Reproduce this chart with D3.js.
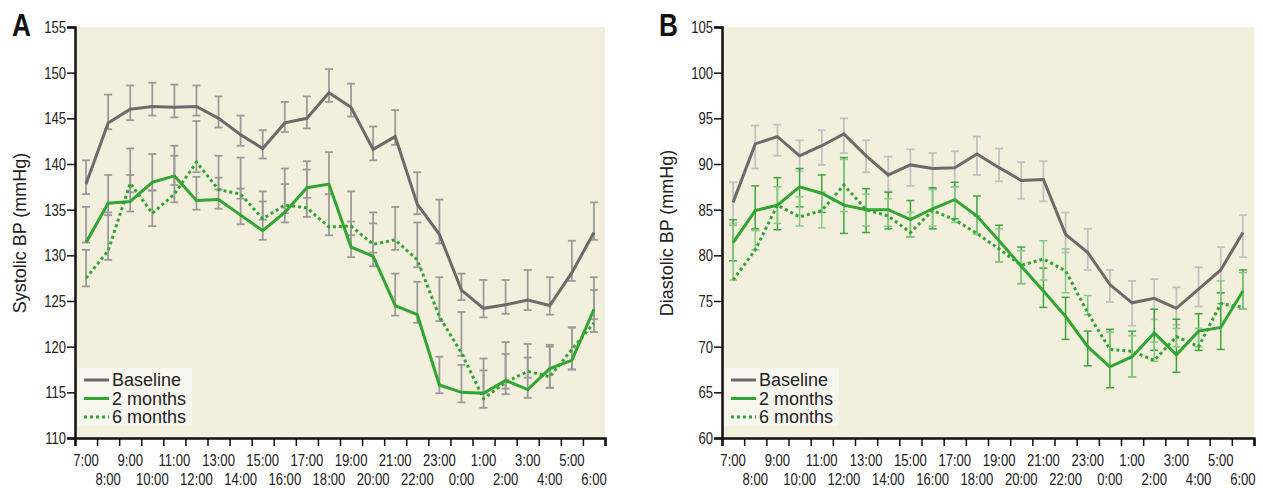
<!DOCTYPE html>
<html>
<head>
<meta charset="utf-8">
<script src="https://cdn.jsdelivr.net/npm/d3@7"></script>
<style>
  body { margin: 0; background: #fff; }
  .tick text { font-family: "Liberation Sans", Arial, sans-serif; font-size: 17px; fill: #222; }
  .ttl { font-family: "Liberation Sans", Arial, sans-serif; font-size: 18px; fill: #222; }
  .leg { font-family: "Liberation Sans", Arial, sans-serif; font-size: 18px; fill: #222; }
  .panel { font-family: "Liberation Sans", Arial, sans-serif; font-weight: bold; font-size: 32px; fill: #111; }
</style>
</head>
<body>
<svg id="fig" width="1263" height="488"></svg>
<script>
const hours = ["7:00","8:00","9:00","10:00","11:00","12:00","13:00","14:00","15:00","16:00","17:00","18:00",
  "19:00","20:00","21:00","22:00","23:00","0:00","1:00","2:00","3:00","4:00","5:00","6:00"];

// Systolic (panel A)
const sysBase   = [137.8,144.5,146.0,146.3,146.2,146.3,145.0,143.2,141.7,144.5,145.0,147.8,146.2,141.6,143.0,135.6,132.3,126.2,124.2,124.6,125.1,124.5,128.1,132.5];
const sysBaseHi = [140.4,147.6,148.6,148.9,148.7,148.6,147.4,145.3,143.7,146.8,147.4,150.4,148.8,144.1,145.9,139.1,136.1,128.0,127.3,127.3,128.4,127.6,131.6,135.8];
const sysBaseLo = [136.7,143.8,144.8,145.3,145.1,145.3,144.0,142.0,140.6,143.5,143.9,146.8,145.2,140.4,142.1,134.5,131.3,125.1,123.2,123.6,124.0,123.5,127.2,131.7];
const sys2m     = [131.4,135.7,135.9,138.0,138.7,136.0,136.1,134.4,132.7,134.7,137.4,137.8,130.9,129.9,124.5,123.5,115.8,115.0,114.9,116.3,115.3,117.6,118.5,124.1];
const sys2mHi   = [135.3,138.8,138.8,141.1,142.0,138.6,138.5,137.3,135.9,137.8,140.3,141.3,133.7,133.5,128.0,127.1,118.9,118.0,118.7,120.5,118.8,120.2,122.1,127.6];
const sys2mLo   = [131.4,134.4,134.8,137.1,137.7,135.0,135.1,133.4,131.7,133.6,136.3,136.7,129.8,128.8,123.4,122.6,114.9,113.9,114.9,115.4,114.4,115.5,117.5,123.0];
const sys6m     = [127.5,130.5,137.9,134.6,136.7,140.2,137.2,136.7,134.0,135.5,135.2,133.1,133.2,131.2,131.7,129.5,123.3,119.3,114.3,116.1,117.3,116.7,119.7,122.6];
const sys6mHi   = [130.6,134.7,141.7,137.1,140.9,144.7,140.9,140.7,137.0,139.5,139.4,136.7,137.0,134.7,135.3,133.6,127.6,123.8,117.4,119.2,120.3,120.0,122.1,126.2];
const sys6mLo   = [126.6,129.5,136.9,133.2,135.8,139.1,137.2,136.2,133.9,134.6,134.2,132.2,132.2,130.3,130.6,128.7,122.8,119.0,113.3,114.8,116.6,115.5,117.5,121.6];

// Diastolic (panel B)
const diaBase   = [85.8,92.2,93.0,90.9,92.0,93.3,90.9,88.8,89.9,89.5,89.6,91.1,89.6,88.2,88.3,82.3,80.3,76.8,74.8,75.3,74.2,76.3,78.4,82.5];
const diaBaseHi = [88.0,94.2,94.3,92.6,93.7,95.0,92.6,90.8,91.6,91.2,91.4,93.0,91.7,90.2,90.3,84.7,82.9,78.4,77.2,77.4,76.5,78.7,80.9,84.4];
const diaBaseLo = [83.5,89.5,90.9,89.2,89.9,91.2,89.1,87.0,87.6,87.3,87.5,88.8,88.1,86.2,85.9,80.3,78.4,74.9,72.3,73.0,72.4,74.4,75.9,79.8];
const dia2m     = [81.4,84.9,85.5,87.5,86.8,85.5,85.0,85.0,83.9,85.1,86.1,84.3,81.6,78.8,76.1,73.3,70.0,67.8,68.9,71.5,69.1,71.7,72.1,76.1];
const dia2mHi   = [83.9,87.6,88.5,89.5,88.8,90.7,87.3,86.9,86.0,87.4,88.0,86.5,83.3,80.9,78.6,75.4,71.7,71.9,71.7,74.1,73.0,73.6,75.9,78.4];
const dia2mLo   = [79.4,82.9,82.8,85.3,84.7,82.4,82.5,82.9,82.0,82.9,84.0,82.3,79.3,76.9,74.3,70.8,67.9,65.5,66.7,69.6,67.2,69.6,69.7,74.1];
const dia6m     = [77.3,80.6,85.5,84.2,84.9,87.7,85.0,84.3,82.5,84.9,83.9,82.4,80.7,78.9,79.6,78.3,73.7,69.7,69.5,68.5,71.1,70.0,74.7,74.3];
const dia6mHi   = [83.3,82.7,87.5,86.4,86.9,90.5,86.7,86.2,84.7,87.2,87.5,84.3,82.9,80.5,81.6,80.7,75.6,71.6,71.2,70.5,72.0,72.0,77.2,78.1];
const dia6mLo   = [77.3,80.6,83.5,83.2,83.0,84.8,83.2,83.2,82.0,83.2,83.6,82.3,79.3,76.9,77.3,75.9,73.5,67.9,66.7,68.4,70.0,70.0,74.7,74.1];

const legendNames = ["Baseline", "2 months", "6 months"];

const svg = d3.select("#fig");
const GREY = "#6b6b6b", GREEN = "#31a532";
const NARROW = 0.77; // horizontal squeeze for the condensed tick font

function drawPanel(o) {
  const top = 27, bottom = 438;
  const g = svg.append("g");

  const x = d3.scaleBand().domain(hours).range([o.left, o.right]).padding(0);
  const xe = d3.scaleLinear().domain([0, hours.length]).range([o.left, o.right]);
  const y = d3.scaleLinear().domain(o.yDomain).range([bottom, top]);
  const cx = h => x(h) + x.bandwidth() / 2;

  // background
  g.append("rect").attr("x", o.left).attr("y", top)
    .attr("width", o.right - o.left).attr("height", bottom - top)
    .attr("fill", "#f2efdd");

  // error bars
  o.series.forEach(s => {
    const eb = g.append("g").attr("stroke", s.barColor).attr("stroke-width", s.barWidth).attr("fill", "none");
    hours.forEach((h, i) => {
      const px = cx(h);
      eb.append("line").attr("x1", px).attr("x2", px).attr("y1", y(s.hi[i])).attr("y2", y(s.lo[i]));
      eb.append("line").attr("x1", px - 4).attr("x2", px + 4).attr("y1", y(s.hi[i])).attr("y2", y(s.hi[i]));
      eb.append("line").attr("x1", px - 4).attr("x2", px + 4).attr("y1", y(s.lo[i])).attr("y2", y(s.lo[i]));
    });
  });

  // lines
  const line = d3.line().x((d, i) => cx(hours[i])).y(d => y(d));
  o.series.slice().reverse().forEach(s => {
    g.append("path").datum(s.values)
      .attr("d", line).attr("fill", "none")
      .attr("stroke", s.color).attr("stroke-width", 3)
      .attr("stroke-dasharray", s.dash || null);
  });

  // legend
  const lg = g.append("g").attr("transform", `translate(${o.left + 3},368)`);
  lg.append("rect").attr("width", 114).attr("height", 58).attr("fill", "#f8f7ef");
  o.series.forEach((s, i) => {
    const yy = 12 + i * 18.5;
    lg.append("line").attr("x1", 6).attr("x2", 31).attr("y1", yy).attr("y2", yy)
      .attr("stroke", s.color).attr("stroke-width", 3).attr("stroke-dasharray", s.dash || null);
    lg.append("text").attr("class", "leg").attr("x", 34).attr("y", yy + 6).text(legendNames[i]);
  });

  // y axis
  g.append("g").attr("transform", `translate(${o.left},0)`)
    .call(d3.axisLeft(y).tickValues(d3.range(o.yDomain[0], o.yDomain[1] + 1, 5)).tickSize(8).tickPadding(1))
    .call(a => a.select(".domain").attr("stroke-width", 2.5).attr("stroke", "#111"))
    .call(a => a.selectAll(".tick line").attr("stroke-width", 1.5).attr("stroke", "#111"))
    .call(a => a.selectAll(".tick text").attr("x", -9 / NARROW).attr("transform", `scale(${NARROW},1)`));

  // x axis: edge ticks
  g.append("g").attr("transform", `translate(0,${bottom})`)
    .call(d3.axisBottom(xe).ticks(24).tickSize(8).tickFormat(""))
    .call(a => a.select(".domain").attr("stroke-width", 2.5).attr("stroke", "#111"))
    .call(a => a.selectAll(".tick line").attr("stroke-width", 1.5).attr("stroke", "#111"));

  // x axis labels at bin centers, two rows
  g.append("g").attr("transform", `translate(0,${bottom})`)
    .call(d3.axisBottom(x).tickSize(0).tickPadding(0))
    .call(a => a.select(".domain").remove())
    .call(a => a.selectAll(".tick text").attr("dy", null)
      .attr("y", (d, i) => i % 2 === 0 ? 28 : 47)
      .attr("transform", `scale(${NARROW},1)`));

  // y axis title
  svg.append("text").attr("class", "ttl")
    .attr("transform", `translate(${o.titleX},${233}) rotate(-90)`)
    .attr("text-anchor", "middle").text(o.title);

  // panel letter
  svg.append("text").attr("class", "panel")
    .attr("transform", `translate(${o.letterX},36) scale(0.82,1)`).text(o.letter);
}

drawPanel({
  left: 75, right: 605, yDomain: [110, 155], title: "Systolic BP (mmHg)", titleX: 26,
  letter: "A", letterX: 12,
  series: [
    { values: sysBase, hi: sysBaseHi, lo: sysBaseLo, color: GREY, barColor: "#9b9b9b", barWidth: 1.8 },
    { values: sys2m, hi: sys2mHi, lo: sys2mLo, color: GREEN, barColor: "#9b9b9b", barWidth: 1.8 },
    { values: sys6m, hi: sys6mHi, lo: sys6mLo, color: GREEN, dash: "3,3", barColor: "#9b9b9b", barWidth: 1.8 }
  ]
});

drawPanel({
  left: 722, right: 1254, yDomain: [60, 105], title: "Diastolic BP (mmHg)", titleX: 673,
  letter: "B", letterX: 659,
  series: [
    { values: diaBase, hi: diaBaseHi, lo: diaBaseLo, color: GREY, barColor: "#c2c2c2", barWidth: 1.8 },
    { values: dia2m, hi: dia2mHi, lo: dia2mLo, color: GREEN, barColor: "#3aa83a", barWidth: 1.5 },
    { values: dia6m, hi: dia6mHi, lo: dia6mLo, color: GREEN, dash: "3,3", barColor: "#86c986", barWidth: 1.5 }
  ]
});
</script>
</body>
</html>
